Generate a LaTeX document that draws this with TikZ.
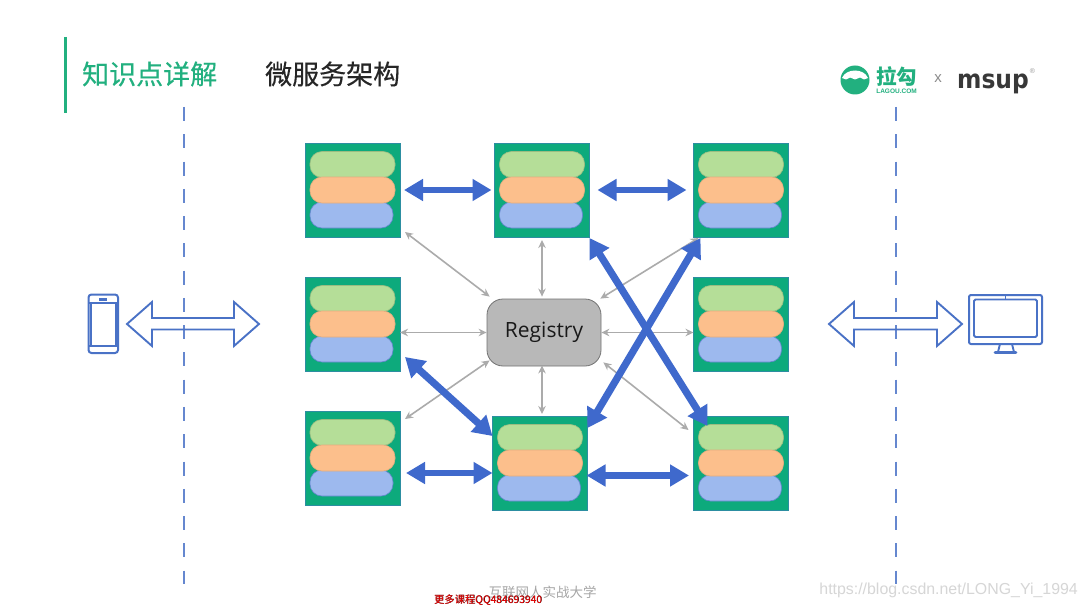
\documentclass[tikz,border=0pt]{standalone}
\usepackage{fontspec}
\setmainfont{Open Sans}
\newfontfamily\cjk{Noto Sans CJK SC}
\newfontfamily\cjkm[FakeBold=0.35]{Noto Sans CJK SC}
\newfontfamily\wm{Liberation Sans}
\newfontfamily\logofont{DejaVu Sans}
\usetikzlibrary{arrows.meta,calc}
\definecolor{teal1}{HTML}{0DAA7C}
\definecolor{titlegreen}{HTML}{22B07F}
\definecolor{pillg}{HTML}{B5DE98}
\definecolor{pillo}{HTML}{FCBF8C}
\definecolor{pillb}{HTML}{9DB9EE}
\definecolor{bluea}{HTML}{3F69CC}
\definecolor{lineblue}{HTML}{4A72C6}
\definecolor{greyarrow}{HTML}{ABABAB}
\tikzset{
  x=1pt,y=-1pt,
  svcbox/.style={draw=lineblue!50!teal1,line width=.6pt,fill=teal1,minimum width=95pt,minimum height=94pt,inner sep=0pt,outer sep=0pt},
  pill/.style={rounded corners=12pt,minimum height=26pt,inner sep=0pt,line width=.6pt},
  thick arrow/.style={draw=bluea,line width=6.8pt,{Triangle[length=19pt,width=21pt]}-{Triangle[length=19pt,width=21pt]}},
  thick diag/.style={draw=bluea,line width=7.2pt,{Triangle[length=19pt,width=22pt]}-{Triangle[length=19pt,width=22pt]}},
  thin arrow/.style={draw=greyarrow,line width=1.6pt,{Stealth[length=8pt,width=7.5pt]}-{Stealth[length=8pt,width=7.5pt]}},
  hollow/.style={draw=lineblue,line width=1.9pt,line join=miter,fill=none},
  device/.style={draw=lineblue,line width=1.9pt,rounded corners=1.5pt},
  guide/.style={draw=lineblue!85!white,line width=2pt,dash pattern=on 14pt off 13.27pt},
}
\newcommand{\svc}[3]{%
  \node[svcbox] (#1) at (#2,#3) {};
  \node[pill,fill=pillg,draw=pillg!85!black,minimum width=85pt] (#1g) at ($(#1.center)+(0,-25.5)$) {};
  \node[pill,fill=pillb,draw=lineblue!85,minimum width=83pt] (#1b) at ($(#1.center)+(-1,25)$) {};
  \node[pill,fill=pillo,draw=pillo!90!black,minimum width=85pt] (#1o) at ($(#1.center)+(0,0)$) {};
}
\begin{document}
\begin{tikzpicture}
\useasboundingbox (0,0) rectangle (1087,607);
\fill[white] (0,0) rectangle (1087,607);
% header
\draw[titlegreen,line width=3pt] (65.5,37) coordinate (barT) -- (65.5,113) coordinate (barB);
\node[text=titlegreen,font=\cjkm\fontsize{27}{27}\selectfont,inner sep=0pt,anchor=west] (t1) at (82,74) {知识点详解};
\node[text=black!85,font=\cjkm\fontsize{27}{27}\selectfont,inner sep=0pt,anchor=west] (t2) at (265,74) {微服务架构};
% guides
\coordinate (g1a) at (184,107); \coordinate (g1b) at (184,584);
\coordinate (g2a) at (895.5,107); \coordinate (g2b) at (895.5,584);
\draw[guide] (g1a) -- (g1b);
\draw[guide] (g2a) -- (g2b);
% logos
\fill[titlegreen] (855,80) circle (14.5);
\fill[white] (842,78) .. controls (846,68) and (864,68) .. (868,78) -- (864,79.5) -- (860,77.5) -- (855,79.5) -- (850,77.5) -- (846,79.5) -- cycle;
\node[text=titlegreen,font=\cjk\bfseries\fontsize{20.5}{20}\selectfont,inner sep=0pt] (lg) at (896.5,76) {拉勾};
\node[text=titlegreen,font=\wm\bfseries\fontsize{6.5}{7}\selectfont,inner sep=0pt] (lgs) at (896.5,91) {LAGOU.COM};
\node[text=black!45,font=\wm\fontsize{15}{15}\selectfont,inner sep=0pt] (xx) at (938,79) {x};
\node[text=black!78,font=\logofont\bfseries\fontsize{26}{26}\selectfont,inner sep=0pt,anchor=base west,xscale=.9] (ms) at (957,89) {msup};
\node[text=black!40,font=\wm\fontsize{7}{7}\selectfont,inner sep=0pt] (rr) at (1032.5,71) {®};
% services
\svc{a1}{352.5}{190}
\svc{a2}{352.5}{324}
\svc{a3}{352.5}{458}
\svc{b1}{542}{190}
\svc{b3}{540}{463}
\svc{c1}{741}{190}
\svc{c2}{741}{324}
\svc{c3}{741}{463}
\node[draw=black!55,line width=.8pt,fill=black!28,rounded corners=16pt,minimum width=114pt,minimum height=67pt,inner sep=0pt,font=\fontsize{21}{22}\selectfont,text=black!90] (reg) at (544,332.5) {Registry};
% thin arrows
\draw[thin arrow] ($(a1.south east)+(5,-5)$) -- ($(reg.north west)+(3,-2)$);
\draw[thin arrow] ($(b1.south)+(0,3)$) -- ($(reg.north)+(-2,-2)$);
\draw[thin arrow] ($(c1.south west)+(5,1)$) -- ($(reg.north east)+(-1,0)$);
\draw[thin arrow] ($(a2.east)+(0,8.5)$) -- (reg.west);
\draw[thin arrow] ($(c2.west)+(0,8.5)$) -- (reg.east);
\draw[thin arrow] ($(a3.north east)+(5,8)$) -- ($(reg.south west)+(3,-6)$);
\draw[thin arrow] ($(b3.north)+(2,-2)$) -- ($(reg.south)+(-2,-1)$);
\draw[thin arrow] ($(c3.north west)+(-5,14)$) -- ($(reg.south east)+(2,-4)$);
% thick arrows
\draw[thick arrow] ($(a1.east)+(4,0)$) -- ($(b1.west)+(-3,0)$);
\draw[thick arrow] ($(b1.east)+(8,0)$) -- ($(c1.west)+(-7,0)$);
\draw[thick diag] ($(a2.south east)+(5,-14)$) -- ($(b3.north west)+(0,20)$);
\draw[thick diag] ($(b1.south east)+(0,1)$) -- ($(c3.north west)+(14,10)$);
\draw[thick diag] ($(c1.south west)+(7,1)$) -- ($(b3.north east)+(0,12)$);
\draw[thick arrow] ($(a3.east)+(6,15)$) -- ($(b3.west)+(0,10)$);
\draw[thick arrow] ($(b3.east)+(-1,12.5)$) -- ($(c3.west)+(-4.5,12.5)$);
% hollow arrows
\draw[hollow] (127,324) -- (152,302) -- (152,318) -- (234,318) -- (234,302) -- (259,324) -- (234,346) -- (234,329.5) -- (152,329.5) -- (152,346) -- cycle;
\draw[hollow] (829,324) -- (854,302) -- (854,318) -- (937,318) -- (937,302) -- (962,324) -- (937,346) -- (937,329.5) -- (854,329.5) -- (854,346) -- cycle;
% phone
\draw[device,line width=2pt,rounded corners=3pt] (88.5,294.5) rectangle (118,353);
\draw[device,rounded corners=0pt] (88.5,303) -- (118,303) (88.5,346) -- (118,346) (91,303) -- (91,346) (116,303) -- (116,346);
\fill[lineblue] (99,298) rectangle (107,300.5);
% monitor
\draw[device,line width=2pt,rounded corners=2pt] (969,295) rectangle (1042,344);
\draw[device] (974,299.5) rectangle (1037,337);
\draw[device,rounded corners=0pt] (1005.5,295) -- (1005.5,299.5);
\draw[device,rounded corners=0pt] (1000,344) -- (998,352) (1012,344) -- (1014,352);
\draw[lineblue,line width=2.8pt,line cap=round] (995,352.5) -- (1016,352.5);
% bottom text
\node[text=black!35,font=\cjk\fontsize{13.5}{14}\selectfont,inner sep=0pt] (f1) at (542.5,592) {互联网人实战大学};
\node[text=black,font=\cjk\fontsize{10.3}{12}\selectfont,inner sep=0pt] (f2s) at (488.4,600.4) {更多课程QQ484693940};
\node[text=red,font=\cjk\fontsize{10.3}{12}\selectfont,inner sep=0pt] (f2) at (488,600) {更多课程QQ484693940};
\node[text=black!16,font=\wm\fontsize{15.9}{18}\selectfont,inner sep=0pt,anchor=east] (wm) at (1078,590) {https://blog.csdn.net/LONG\_Yi\_1994};
\end{tikzpicture}
\end{document}
